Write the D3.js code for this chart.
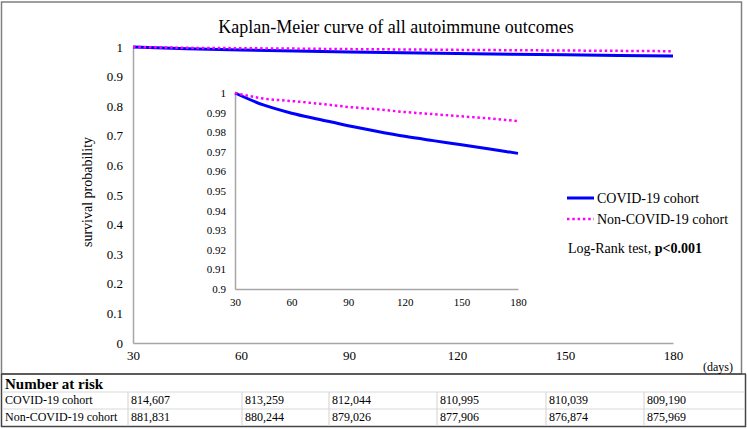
<!DOCTYPE html>
<html><head><meta charset="utf-8">
<script src="https://cdn.jsdelivr.net/npm/d3@7"></script>
<style>
html,body{margin:0;padding:0;background:#fff;}
svg{display:block;}
text{font-family:"Liberation Serif","Times New Roman",serif;}
</style></head>
<body>
<svg id="c" width="747" height="429" font-family="Liberation Serif"></svg>
<script>
// ---- data ----
const days = [30, 45, 60, 75, 90, 105, 120, 135, 150, 165, 180];
const covid = [1.0, 0.9939, 0.9897, 0.9865, 0.9833, 0.9805, 0.9779, 0.9757, 0.9736, 0.9714, 0.9692];
const nonCovid = [1.0, 0.9972, 0.9959, 0.9945, 0.9929, 0.9917, 0.9903, 0.9892, 0.9881, 0.9870, 0.9857];
const xTicks = [30, 60, 90, 120, 150, 180];
const mainYTicks = [0, 0.1, 0.2, 0.3, 0.4, 0.5, 0.6, 0.7, 0.8, 0.9, 1];
const insetYTicks = [0.9, 0.91, 0.92, 0.93, 0.94, 0.95, 0.96, 0.97, 0.98, 0.99, 1];
const seriesNames = ["COVID-19 cohort", "Non-COVID-19 cohort"];
const riskCovid = ["814,607", "813,259", "812,044", "810,995", "810,039", "809,190"];
const riskNonCovid = ["881,831", "880,244", "879,026", "877,906", "876,874", "875,969"];

const svg = d3.select("#c");
const BLUE = "#0000ff", PINK = "#ff00ff", AX = "#a6a6a6";
const FONT = "Liberation Serif";

// outer frames
svg.append("rect").attr("x",1.5).attr("y",2).attr("width",740).attr("height",372)
  .attr("fill","none").attr("stroke","#7f7f7f").attr("stroke-width",1.5);
svg.append("line").attr("x1",1).attr("x2",746).attr("y1",374).attr("y2",374).attr("stroke","#444").attr("stroke-width",1.5);
svg.append("line").attr("x1",1.5).attr("x2",1.5).attr("y1",374).attr("y2",427).attr("stroke","#444").attr("stroke-width",1.5);
svg.append("line").attr("x1",745.5).attr("x2",745.5).attr("y1",374).attr("y2",427).attr("stroke","#444").attr("stroke-width",1.5);
svg.append("line").attr("x1",1).attr("x2",746).attr("y1",426.5).attr("y2",426.5).attr("stroke","#444").attr("stroke-width",1.5);

// title
svg.append("text").attr("x",396).attr("y",33).attr("text-anchor","middle")
  .attr("font-size",18).attr("fill","#000").text("Kaplan-Meier curve of all autoimmune outcomes");

// ---- main chart ----
const x = d3.scaleLinear().domain([30,180]).range([133,673]);
const y = d3.scaleLinear().domain([0,1]).range([343,47]);

const gx = svg.append("g").attr("transform","translate(0,343)")
  .call(d3.axisBottom(x).tickValues(xTicks).tickSize(0).tickPadding(8).tickFormat(d3.format("d")));
const gy = svg.append("g").attr("transform","translate(133,0)")
  .call(d3.axisLeft(y).tickValues(mainYTicks).tickSize(0).tickPadding(10).tickFormat(d3.format("~g")));
[gx,gy].forEach(g=>{
  g.attr("font-family",FONT);
  g.select(".domain").attr("stroke",AX).attr("stroke-width",1.5);
  g.selectAll("text").attr("font-size",13).attr("fill","#000");
});

svg.append("text").attr("transform","translate(92,192) rotate(-90)").attr("text-anchor","middle")
  .attr("font-size",14).text("survival probability");
svg.append("text").attr("x",733).attr("y",371).attr("text-anchor","end").attr("font-size",12).text("(days)");

const lineMain = d3.line().x((d,i)=>x(days[i])).y(d=>y(d));
svg.append("path").datum(covid).attr("d",lineMain).attr("fill","none")
  .attr("stroke",BLUE).attr("stroke-width",3);
svg.append("path").datum(nonCovid).attr("d",lineMain).attr("fill","none")
  .attr("stroke",PINK).attr("stroke-width",2.5).attr("stroke-dasharray","2.5,2.8");

// ---- inset ----
const xi = d3.scaleLinear().domain([30,180]).range([235,518]);
const yi = d3.scaleLinear().domain([0.9,1]).range([289,93]);
const gxi = svg.append("g").attr("transform","translate(0,289)")
  .call(d3.axisBottom(xi).tickValues(xTicks).tickSize(0).tickPadding(9).tickFormat(d3.format("d")));
const gyi = svg.append("g").attr("transform","translate(235,0)")
  .call(d3.axisLeft(yi).tickValues(insetYTicks).tickSize(0).tickPadding(9).tickFormat(d3.format("~g")));
[gxi,gyi].forEach(g=>{
  g.attr("font-family",FONT);
  g.select(".domain").attr("stroke",AX).attr("stroke-width",1.5);
  g.selectAll("text").attr("font-size",11).attr("fill","#000");
});
const lineIn = d3.line().x((d,i)=>xi(days[i])).y(d=>yi(d)).curve(d3.curveMonotoneX);
svg.append("path").datum(covid).attr("d",lineIn).attr("fill","none")
  .attr("stroke",BLUE).attr("stroke-width",3);
svg.append("path").datum(nonCovid).attr("d",lineIn).attr("fill","none")
  .attr("stroke",PINK).attr("stroke-width",2.5).attr("stroke-dasharray","2.5,2.8");

// ---- legend ----
svg.append("line").attr("x1",567).attr("x2",594).attr("y1",198).attr("y2",198)
  .attr("stroke",BLUE).attr("stroke-width",3);
svg.append("line").attr("x1",567).attr("x2",594).attr("y1",219).attr("y2",219)
  .attr("stroke",PINK).attr("stroke-width",2.5).attr("stroke-dasharray","2.5,2.8");
svg.append("text").attr("x",597).attr("y",203).attr("font-size",14).text(seriesNames[0]);
svg.append("text").attr("x",597).attr("y",224).attr("font-size",14).text(seriesNames[1]);
const lr = svg.append("text").attr("x",568).attr("y",253).attr("font-size",14);
lr.append("tspan").text("Log-Rank test, ");
lr.append("tspan").attr("font-weight","bold").text("p<0.001");

// ---- table ----
const colEdges = [2,128,242,329,437,546,644,745];
svg.append("text").attr("x",5).attr("y",389).attr("font-size",15).attr("font-weight","bold").text("Number at risk");
[392,409].forEach(yy=>svg.append("line").attr("x1",2).attr("x2",745).attr("y1",yy).attr("y2",yy)
  .attr("stroke","#d9d9d9").attr("stroke-width",1.2));
colEdges.slice(1,-1).forEach(cx=>svg.append("line").attr("x1",cx).attr("x2",cx).attr("y1",392).attr("y2",426)
  .attr("stroke","#d9d9d9").attr("stroke-width",1.2));
const rows = [[seriesNames[0], riskCovid],[seriesNames[1], riskNonCovid]];
rows.forEach((r,ri)=>{
  const by = 404 + ri*17;
  svg.append("text").attr("x",5).attr("y",by).attr("font-size",12).text(r[0]);
  r[1].forEach((v,ci)=>svg.append("text").attr("x",colEdges[ci+1]+3).attr("y",by).attr("font-size",12).text(v));
});
</script>
</body></html>
